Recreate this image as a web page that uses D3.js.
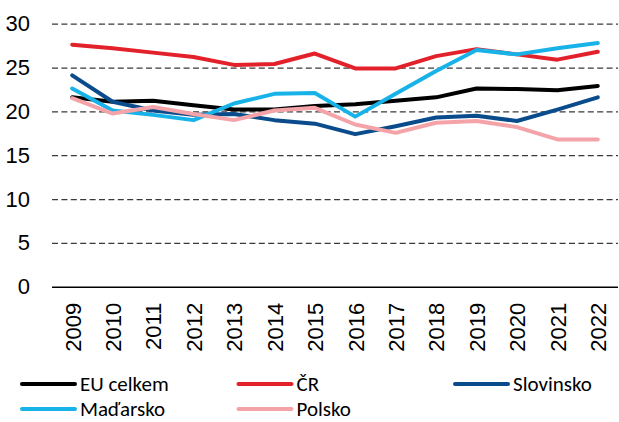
<!DOCTYPE html>
<html>
<head>
<meta charset="utf-8">
<script src="https://cdn.jsdelivr.net/npm/d3@7"></script>
<style>
  html, body { margin: 0; padding: 0; background: #fff; }
  svg { display: block; font-family: Calibri, Carlito, "Liberation Sans", Arial, sans-serif; }
</style>
</head>
<body>
<svg id="chart" width="619" height="422"></svg>
<script>
const years = ["2009", "2010", "2011", "2012", "2013", "2014", "2015",
  "2016", "2017", "2018", "2019", "2020", "2021", "2022"];
const yTicks = [0, 5, 10, 15, 20, 25, 30];

const euCelkem = [21.6, 21.1, 21.2, 20.7, 20.2, 20.2, 20.6, 20.8, 21.2, 21.6, 22.6, 22.55, 22.4, 22.9];
const cr = [27.6, 27.2, 26.7, 26.2, 25.3, 25.4, 26.6, 24.9, 24.9, 26.3, 27.1, 26.5, 25.9, 26.8];
const slovinsko = [24.1, 21.1, 20.1, 19.6, 19.7, 19.0, 18.6, 17.4, 18.3, 19.3, 19.5, 18.9, 20.2, 21.6];
const madarsko = [22.6, 20.1, 19.6, 19.0, 20.9, 22.0, 22.1, 19.4, 22.0, 24.6, 27.0, 26.5, 27.2, 27.8];
const polsko = [21.5, 19.75, 20.5, 19.7, 19.0, 20.1, 20.4, 18.5, 17.55, 18.7, 18.9, 18.2, 16.8, 16.8];

const series = [
  { name: "EU celkem", values: euCelkem, color: "#000000" },
  { name: "ČR", values: cr, color: "#e2212b" },
  { name: "Slovinsko", values: slovinsko, color: "#0a4b8c" },
  { name: "Maďarsko", values: madarsko, color: "#17b3e8" },
  { name: "Polsko", values: polsko, color: "#f4a4a9" },
];

const svg = d3.select("#chart");
const plot = { left: 52, right: 618, top: 23.7, bottom: 286.7 };
const fontSize = 22;

const x = d3.scalePoint().domain(years).range([plot.left, plot.right]).padding(0.5);
const y = d3.scaleLinear().domain([0, 30]).range([plot.bottom, plot.top]);

// gridlines + y labels
const yAxis = svg.append("g")
  .attr("transform", `translate(${plot.left},0)`)
  .call(d3.axisLeft(y).tickValues(yTicks).tickSize(-(plot.right - plot.left)).tickPadding(22));
yAxis.select(".domain").remove();
yAxis.selectAll(".tick line")
  .attr("stroke", "#3a3a3a")
  .attr("stroke-width", 1.3)
  .attr("stroke-dasharray", (d) => (d === 0 ? null : "6,3.4"));
yAxis.selectAll(".tick").filter((d) => d === 0).select("line")
  .attr("stroke", "#000").attr("stroke-width", 1.5);
yAxis.selectAll(".tick text")
  .attr("fill", "#000")
  .attr("font-size", fontSize)
  .attr("font-family", null);

// x axis labels
const xAxis = svg.append("g")
  .attr("transform", `translate(0,${plot.bottom})`)
  .call(d3.axisBottom(x).tickSize(0));
xAxis.select(".domain").remove();
xAxis.selectAll(".tick text")
  .attr("transform", "rotate(-90)")
  .attr("text-anchor", "end")
  .attr("x", -16)
  .attr("y", 0)
  .attr("dy", "0.36em")
  .attr("fill", "#000")
  .attr("font-size", fontSize)
  .attr("font-family", null);

// lines
const line = d3.line()
  .x((d, i) => x(years[i]))
  .y((d) => y(d));

svg.append("g")
  .selectAll("path")
  .data(series)
  .join("path")
  .attr("d", (d) => line(d.values))
  .attr("fill", "none")
  .attr("stroke", (d) => d.color)
  .attr("stroke-width", 4)
  .attr("stroke-linejoin", "round")
  .attr("stroke-linecap", "round");

// legend
const legendCols = [22, 238.5, 455];
const legendRows = [384, 409];
const legend = svg.append("g")
  .selectAll("g")
  .data(series)
  .join("g")
  .attr("transform", (d, i) => `translate(${legendCols[i % 3]},${legendRows[Math.floor(i / 3)]})`);
legend.append("line")
  .attr("x1", 0).attr("x2", 53)
  .attr("y1", 0).attr("y2", 0)
  .attr("stroke", (d) => d.color)
  .attr("stroke-width", 4)
  .attr("stroke-linecap", "round");
legend.append("text")
  .attr("x", 58)
  .attr("dy", "0.35em")
  .attr("font-size", 21)
  .attr("fill", "#000")
  .text((d) => d.name);
</script>
</body>
</html>
